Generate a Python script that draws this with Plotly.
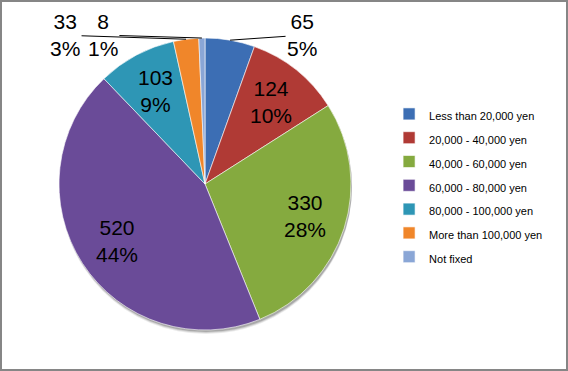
import math
import plotly.graph_objects as go

categories = ["Less than 20,000 yen", "20,000 - 40,000 yen", "40,000 - 60,000 yen",
              "60,000 - 80,000 yen", "80,000 - 100,000 yen", "More than 100,000 yen", "Not fixed"]
values = [65, 124, 330, 520, 103, 33, 8]
colors = ["#3C6EB4", "#B03A35", "#85AA3F", "#6A4B98", "#2E96B5", "#F0862A", "#8AA6D6"]
# pixel offsets of the outside labels from their slice edge (layout only)
outside_label_offsets = {0: (72, -5), 5: (-121, -4), 6: (-99, -3)}
inside_label_radius = 0.72  # fraction of radius (layout)

W, H = 568, 371
cx, cy, r = 205, 184, 146  # pie centre / radius in pixels (layout)
label_font = dict(family="Liberation Sans", size=21, color="black")

legend_labels = ['<span style="font-size:11px">%s</span>' % c for c in categories]

fig = go.Figure(go.Pie(
    labels=legend_labels,
    values=values,
    sort=False,
    direction="clockwise",
    rotation=0,
    marker=dict(colors=colors, line=dict(color="rgba(255,255,255,0.6)", width=1)),
    textinfo="none",
    domain=dict(x=[(cx - r) / W, (cx + r) / W], y=[1 - (cy + r) / H, 1 - (cy - r) / H]),
    hoverinfo="label+value+percent",
))

total = sum(values)
annotations = []
cum = 0
for i, v in enumerate(values):
    mid = (cum + v / 2) / total * 2 * math.pi
    cum += v
    txt = "%d<br>%d%%" % (v, round(v / total * 100))
    if i in outside_label_offsets:
        tx = cx + r * math.sin(mid)
        ty = cy - r * math.cos(mid)
        ax, ay = outside_label_offsets[i]
        annotations.append(dict(
            x=tx / W, y=1 - ty / H, xref="paper", yref="paper",
            text=txt, showarrow=True, arrowhead=0, arrowwidth=1, arrowcolor="black",
            ax=ax, ay=ay, standoff=0, font=label_font,
        ))
    else:
        rr = r * inside_label_radius
        tx = cx + rr * math.sin(mid)
        ty = cy - rr * math.cos(mid)
        annotations.append(dict(
            x=tx / W, y=1 - ty / H, xref="paper", yref="paper",
            text=txt, showarrow=False, xanchor="center", yanchor="middle",
            font=label_font,
        ))

# soft drop shadow under the pie (decoration)
shadow = []
for k, (dy, a) in enumerate([(4, 0.08), (3, 0.12), (2, 0.18)]):
    shadow.append(dict(type="circle", xref="paper", yref="paper", layer="below",
                       x0=(cx - r + 1) / W, x1=(cx + r + 1) / W,
                       y0=1 - (cy + r + dy) / H, y1=1 - (cy - r + dy) / H,
                       fillcolor="rgba(0,0,0,%s)" % a, line=dict(width=0)))

fig.update_layout(
    width=W, height=H,
    margin=dict(l=0, r=0, t=0, b=0),
    paper_bgcolor="white",
    plot_bgcolor="white",
    font=dict(family="Liberation Sans", color="black"),
    legend=dict(
        x=0.685, y=0.5, xanchor="left", yanchor="middle",
        font=dict(family="Liberation Sans", size=16, color="black"),
        bgcolor="rgba(0,0,0,0)",
    ),
    annotations=annotations,
    shapes=shadow + [dict(type="rect", xref="paper", yref="paper", x0=0, y0=0, x1=1, y1=1,
                          line=dict(color="#868686", width=4))],
)

fig.write_html("out.html", post_script="document.body.style.margin='0';",
               config={"displayModeBar": False})
